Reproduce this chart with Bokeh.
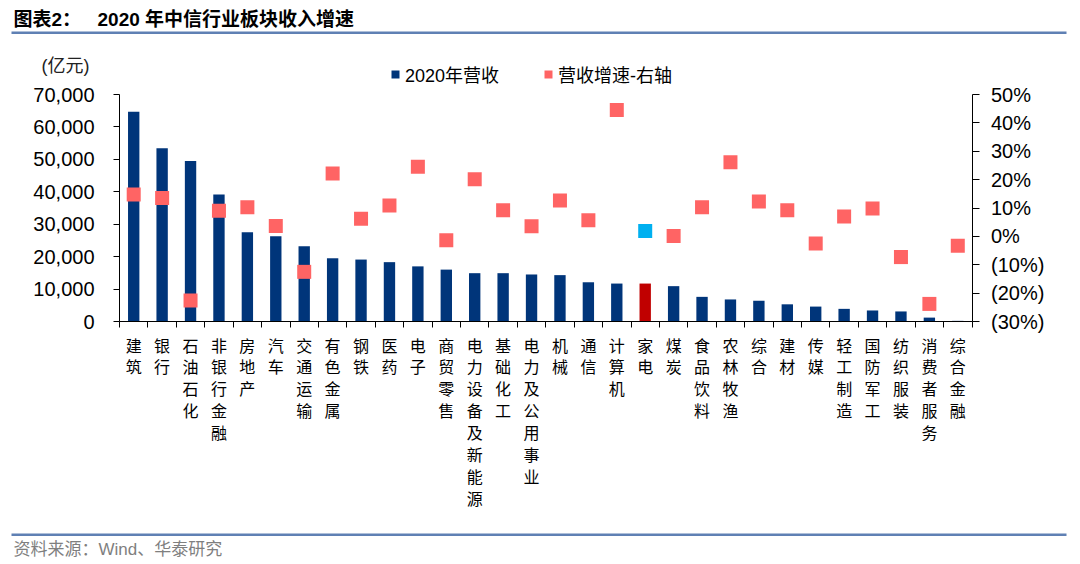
from bokeh.plotting import figure
from bokeh.models import (Range1d, LinearAxis, FixedTicker, NumeralTickFormatter,
                          CustomJSTickFormatter, Legend, LegendItem, ColumnDataSource,
                          Label, BoxAnnotation)
from bokeh.embed import file_html
from bokeh.resources import INLINE

categories = ["建筑", "银行", "石油石化", "非银行金融", "房地产", "汽车", "交通运输",
              "有色金属", "钢铁", "医药", "电子", "商贸零售", "电力设备及新能源",
              "基础化工", "电力及公用事业", "机械", "通信", "计算机", "家电", "煤炭",
              "食品饮料", "农林牧渔", "综合", "建材", "传媒", "轻工制造", "国防军工",
              "纺织服装", "消费者服务", "综合金融"]
revenue = [64700, 53400, 49500, 39200, 27500, 26300, 23200, 19500, 19100, 18300,
           17000, 16000, 14900, 14900, 14500, 14300, 12100, 11700, 11700, 10900,
           7600, 6800, 6400, 5300, 4600, 3900, 3400, 3100, 1200, 200]
growth = [14.8, 13.5, -22.6, 9.0, 10.3, 3.7, -12.5, 22.2, 6.2, 10.9,
          24.5, -1.4, 20.1, 9.2, 3.6, 12.6, 5.7, 44.5, 1.9, 0.1,
          10.3, 26.1, 12.3, 9.2, -2.5, 7.0, 9.8, -7.3, -23.8, -3.3]
highlight = "家电"
left_ticks = [0, 10000, 20000, 30000, 40000, 50000, 60000, 70000]
right_ticks = [-30, -20, -10, 0, 10, 20, 30, 40, 50]
right_tick_labels = ["(30%)", "(20%)", "(10%)", "0%", "10%", "20%", "30%", "40%", "50%"]
series_names = ["2020年营收", "营收增速-右轴"]
unit_label = "(亿元)"
title_prefix = "图表2："
title_text = "2020 年中信行业板块收入增速"
source_text = "资料来源：Wind、华泰研究"

NAVY = "#00357A"
PINK = "#FF6464"
RED = "#C00000"
BLUE = "#00B0F0"
LINE = "#5F80B4"
LATIN_CJK = "Liberation Sans, Noto Sans CJK SC"

# canvas layout (pixels): the frame fills the whole canvas, axes sit at fixed spots
W, H = 1072, 560
PL, PR, PT, PB = 119, 971.5, 94, 321

n = len(categories)
xs = [i + 0.5 for i in range(n)]
bar_colors = [RED if c == highlight else NAVY for c in categories]
sq_colors = [BLUE if c == highlight else PINK for c in categories]


def span(lo, hi, a, b, total):
    """data range whose [lo, hi] maps onto pixels [a, b] of a 0..total canvas axis"""
    u = (b - a) / (hi - lo)
    return lo - a / u, hi + (total - b) / u


x0, x1 = span(0, n, PL, PR, W)
ly0, ly1 = span(left_ticks[0], left_ticks[-1], H - PB, H - PT, H)
ry0, ry1 = span(right_ticks[0], right_ticks[-1], H - PB, H - PT, H)

src = ColumnDataSource(dict(x=xs, rev=revenue, g=growth, bc=bar_colors, sc=sq_colors))

p = figure(width=W, height=H, x_range=Range1d(x0, x1), y_range=Range1d(ly0, ly1),
           output_backend="svg", toolbar_location=None,
           x_axis_location=None, y_axis_location=None,
           min_border=0, min_border_left=0, min_border_right=0, min_border_top=0,
           min_border_bottom=0, outline_line_color=None)
p.extra_y_ranges = {"pct": Range1d(ry0, ry1)}
p.xgrid.visible = False
p.ygrid.visible = False

yl = LinearAxis(fixed_location=0, bounds=(left_ticks[0], left_ticks[-1]),
                ticker=FixedTicker(ticks=left_ticks), formatter=NumeralTickFormatter(format="0,0"),
                major_tick_in=0, major_tick_out=6, minor_tick_line_color=None,
                major_label_standoff=19, major_label_text_font="Liberation Sans",
                major_label_text_font_size="20px", major_label_text_color="black",
                axis_line_color="black", major_tick_line_color="black")
p.add_layout(yl, "left")

yr = LinearAxis(y_range_name="pct", fixed_location=n, bounds=(right_ticks[0], right_ticks[-1]),
                ticker=FixedTicker(ticks=right_ticks),
                major_label_overrides=dict(zip(right_ticks, right_tick_labels)),
                major_tick_in=0, major_tick_out=7, minor_tick_line_color=None,
                major_label_standoff=12, major_label_text_font="Liberation Sans",
                major_label_text_font_size="20px", major_label_text_color="black",
                axis_line_color="black", major_tick_line_color="black")
p.add_layout(yr, "right")

xb = LinearAxis(fixed_location=0, bounds=(0, n),
                ticker=FixedTicker(ticks=xs, minor_ticks=list(range(n + 1))),
                formatter=CustomJSTickFormatter(args=dict(names=categories), code="""
                    const i = Math.floor(tick);
                    if (i < 0 || i >= names.length) return '';
                    return names[i].split('').join('\\n');
                """),
                major_tick_line_color=None, major_tick_in=0, major_tick_out=6,
                minor_tick_in=0, minor_tick_out=6, minor_tick_line_color="black",
                major_label_standoff=5, major_label_text_font="Noto Sans CJK SC",
                major_label_text_font_size="16px", major_label_text_line_height=0.915,
                major_label_text_color="black", axis_line_color="black")
p.add_layout(xb, "below")

bars = p.vbar(x="x", top="rev", width=0.4, fill_color="bc", line_color=None, source=src)
squares = p.scatter(x="x", y="g", marker="square", size=14, fill_color="sc", line_color=None,
                    y_range_name="pct", source=src)
# zero-size twin of the bars: only supplies a square swatch for the legend
bar_swatch = p.scatter(x="x", y="rev", marker="square", size=0, fill_color=NAVY,
                       line_color=None, source=src)

legend = Legend(items=[LegendItem(label=series_names[0], renderers=[bar_swatch], index=0),
                       LegendItem(label=series_names[1], renderers=[squares], index=0)],
                orientation="horizontal", location=(385, H - 87), glyph_width=20, glyph_height=20,
                label_standoff=0, spacing=39, padding=0, margin=0, border_line_color=None,
                background_fill_alpha=0, label_text_font=LATIN_CJK,
                label_text_font_size="18px", label_height=20, label_text_color="black")
p.add_layout(legend, "center")


def text(x, top, s, size, color="black", style="normal"):
    p.add_layout(Label(x=x, y=H - top, x_units="screen", y_units="screen", text=s,
                       text_font=LATIN_CJK, text_font_size=size, text_font_style=style,
                       text_baseline="top", text_color=color))


def hline(left, right, top, bottom):
    p.add_layout(BoxAnnotation(left=left, right=right, top=H - top, bottom=H - bottom,
                               left_units="screen", right_units="screen",
                               top_units="screen", bottom_units="screen",
                               fill_color=LINE, fill_alpha=1, line_color=None))


text(13, 8, title_prefix, "19px", style="bold")
text(97, 8, title_text, "19px", style="bold")
text(41, 55, unit_label, "18px", color="#222222")
text(13, 539, source_text, "17px", color="#7F7F7F")
hline(11, 1066, 31, 33.5)
hline(11, 1066, 533, 535.5)

open("out.html", "w").write(file_html(p, INLINE))
